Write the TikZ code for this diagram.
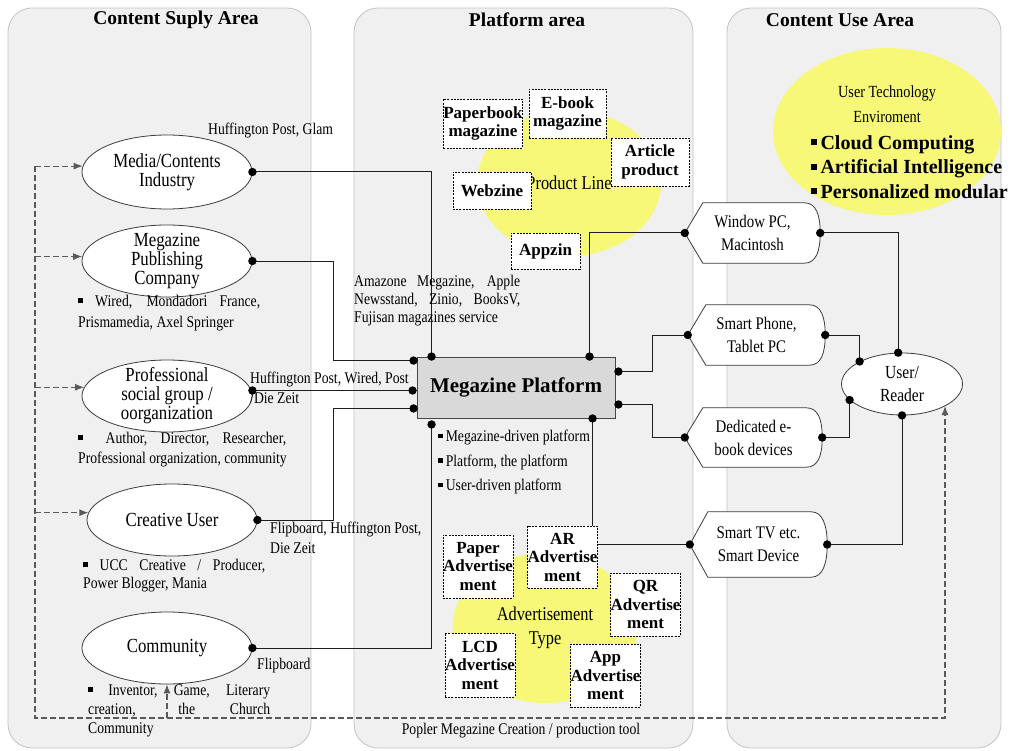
\documentclass[tikz,border=0pt]{standalone}
\usepackage{fontspec}
\setmainfont{Liberation Serif}
\newfontfamily\cnx{Liberation Serif}[FakeStretch=0.84]
\usetikzlibrary{shapes.geometric,arrows.meta,calc}
\definecolor{panelfill}{RGB}{240,240,240}
\definecolor{panelline}{RGB}{195,195,195}
\definecolor{yelc}{RGB}{247,247,120}
\definecolor{platc}{RGB}{217,217,217}
\definecolor{platline}{RGB}{70,70,70}
\definecolor{ellc}{RGB}{60,60,60}
\definecolor{linec}{RGB}{30,30,30}
\definecolor{dashc}{RGB}{90,90,90}
\newcommand\bsq{\rule[0.2em]{0.3em}{0.3em}}
\newcommand\dispshape[1]{%
  \draw[shp] (#1.west) -- ($(#1.north west)+(18,0)$) -- ($(#1.north east)+(-16,0)$)
   .. controls ($(#1.north east)+(-4,0)$) and ($(#1.east)+(0,-18)$) .. (#1.east)
   .. controls ($(#1.east)+(0,18)$) and ($(#1.south east)+(-4,0)$) .. ($(#1.south east)+(-16,0)$)
   -- ($(#1.south west)+(18,0)$) -- cycle;}
\begin{document}
\begin{tikzpicture}[x=1pt,y=-1pt,
  panel/.style={draw=panelline, fill=panelfill, rounded corners=24pt, line width=0.8pt},
  yel/.style={ellipse, fill=yelc, inner sep=0pt},
  ell/.style={ellipse, draw=ellc, fill=white, line width=0.8pt, inner sep=0pt, minimum width=170pt, minimum height=72pt},
  disp/.style={inner sep=0pt, minimum width=137pt, minimum height=60pt},
  shp/.style={draw=ellc, fill=white, line width=0.8pt},
  conn/.style={draw=linec, line width=1pt},
  dconn/.style={draw=dashc, line width=1.1pt, dash pattern=on 6pt off 3pt},
  dbox/.style={draw=black, fill=white, line width=0.7pt, dash pattern=on 2pt off 1.2pt, inner sep=0pt, align=center, font=\bfseries\fontsize{17}{18.5}\selectfont},
  lbl/.style={inner sep=0pt, align=left, font=\cnx\fontsize{16.3}{19}\selectfont},
  ctext/.style={inner sep=0pt, align=center, font=\cnx\fontsize{20}{19}\selectfont},
  dtext/.style={inner sep=0pt, align=center, font=\cnx\fontsize{17.7}{23}\selectfont},
  hdr/.style={inner sep=0pt, font=\bfseries\fontsize{19.5}{22}\selectfont},
  tip/.style={-{Latex[length=9pt,width=7pt]}}
]
\useasboundingbox (0,0) rectangle (1016,751);
% panels
\draw[panel] (8,8) rectangle (311,748);
\draw[panel] (354,8) rectangle (693,748);
\draw[panel] (727,8) rectangle (1001,748);
\node[hdr] (h1) at (176,20) {Content Suply Area};
\node[hdr] (h2) at (527,20) {Platform area};
\node[hdr] (h3) at (840,20) {Content Use Area};

% yellow ellipses
\node[yel, minimum width=184pt, minimum height=146pt, label={[lbl, font=\cnx\fontsize{19.5}{20}\selectfont]center:Product Line}] (ypl) at (569,183) {};
\node[yel, minimum width=185pt, minimum height=150pt, label={[lbl, align=center, font=\cnx\fontsize{19.5}{24}\selectfont]center:Advertisement\\Type}] (yad) at (545,628) {};
\node[yel, minimum width=228pt, minimum height=167pt] (yut) at (887,131.5) {};
\node[lbl, align=center, font=\cnx\fontsize{17}{25}\selectfont] (utt) at (887,104.5) {User Technology\\Enviroment};
\node[inner sep=0pt, anchor=north west, align=left, font=\bfseries\fontsize{20}{24.5}\selectfont] (utb) at (811,135) {\bsq\,Cloud Computing\\\bsq\,Artificial Intelligence\\\bsq\,Personalized modular};

% left ellipses
\node[ell, minimum height=74pt, label={[ctext]center:Media/Contents\\Industry}] (med) at (167,172) {};
\node[ell, label={[ctext]center:Megazine\\Publishing\\Company}] (pub) at (167,261) {};
\node[ell, label={[ctext]center:Professional\\social group /\\oorganization}] (prof) at (167,396) {};
\node[ell, label={[ctext]center:Creative User}] (cre) at (172,520) {};
\node[ell, label={[ctext]center:Community}] (com) at (167,648) {};

% platform
\node[draw=platline, fill=platc, line width=0.9pt, minimum width=198pt, minimum height=61pt, inner sep=0pt, font=\bfseries\fontsize{21}{24}\selectfont] (plat) at (516,387.5) {Megazine Platform};
\coordinate (pt1) at ($(plat.north west)+(15,0)$);
\coordinate (pt2) at ($(plat.north west)+(173,0)$);
\coordinate (pl1) at ($(plat.north west)+(-3,4)$);
\coordinate (pl2) at ($(plat.west)+(-4,3)$);
\coordinate (pl3) at ($(plat.south west)+(-3,-10)$);
\coordinate (pr1) at ($(plat.north east)+(3,15)$);
\coordinate (pr2) at ($(plat.south east)+(3,-14)$);
\coordinate (pb1) at ($(plat.south west)+(15,6)$);
\coordinate (pb2) at ($(plat.south west)+(176,0)$);
\coordinate (profd) at (prof.east |- pl2);

% display shapes (placeholders) and user
\node[disp, minimum width=135pt] (win) at (752.5,233) {};
\node[disp] (phone) at (756.5,335) {};
\node[disp, minimum height=59pt] (ded) at (753.5,437.5) {};
\node[disp, minimum height=65pt] (tv) at (758.5,544.5) {};
\node[ell, minimum width=121pt, minimum height=62pt, label={[ctext, font=\cnx\fontsize{18.5}{23}\selectfont]center:User/\\Reader}] (user) at (902,384) {};

% solid connectors
\draw[conn] (med.east) -| (pt1);
\draw[conn] (pub.east) -| ($(pl1)+(-80,0)$) -- (pl1);
\draw[conn] (profd) -- (pl2);
\draw[conn] (cre.east) -| ($(pl3)+(-80,0)$) -- (pl3);
\draw[conn] (com.east) -| (pb1);
\draw[conn] (pt2) |- (win.west);
\draw[conn] (pr1) -- ++(34,0) |- (phone.west);
\draw[conn] (pr2) -- ++(34,0) |- (ded.west);
\draw[conn] (pb2) |- (tv.west);
\draw[conn] (win.east) -| (user.97);
\draw[conn] (phone.east) -| (user.152);
\draw[conn] (ded.east) -| (user.197);
\draw[conn] (tv.east) -| (user.south);

% dashed feedback loop
\coordinate (dl) at (35,718);
\coordinate (dr) at (945,718);
\draw[dconn, tip] (dl |- med.176) -- (dl) -- (dr) -- (dr |- user.333);
\draw[dconn, tip] (dl |- med.176) -- (med.176);
\draw[dconn, tip] (dl |- pub.177) -- (pub.177);
\draw[dconn, tip] (dl |- prof.174) -- (prof.174);
\draw[dconn, tip] (dl |- cre.175) -- (cre.175);
\draw[dconn, tip] (dl -| com.south) -- (com.south);

% display shapes
\dispshape{win}
\dispshape{phone}
\dispshape{ded}
\dispshape{tv}
\node[dtext] (wint) at (win) {Window PC,\\Macintosh};
\node[dtext] (phonet) at (phone) {Smart Phone,\\Tablet PC};
\node[dtext] (dedt) at (ded) {Dedicated e-\\book devices};
\node[dtext] (tvt) at (tv) {Smart TV etc.\\Smart Device};

% dashed boxes
\node[dbox, minimum width=78pt, minimum height=49pt] (bpb) at (483,123.5) {Paperbook\\magazine};
\node[dbox, minimum width=77pt, minimum height=49pt] (beb) at (567.5,113.5) {E-book\\magazine};
\node[dbox, minimum width=78pt, minimum height=48pt] (bar) at (650,162) {Article\\product};
\node[dbox, minimum width=78pt, minimum height=37pt] (bwz) at (492,190.5) {Webzine};
\node[dbox, minimum width=69pt, minimum height=36pt] (bap) at (545.5,251) {Appzin};
\node[dbox, minimum width=68pt, minimum height=63pt] (apa) at (478,566.5) {Paper\\Advertise\\ment};
\node[dbox, minimum width=67pt, minimum height=62pt] (aar) at (562.5,557) {AR\\Advertise\\ment};
\node[dbox, minimum width=67pt, minimum height=63pt] (aqr) at (645.5,604.5) {QR\\Advertise\\ment};
\node[dbox, minimum width=68pt, minimum height=64pt] (alc) at (480,665) {LCD\\Advertise\\ment};
\node[dbox, minimum width=67pt, minimum height=63pt] (aap) at (605.5,675.5) {App\\Advertise\\ment};

% dots
\foreach \c in {med.east, pub.east, profd, cre.east, com.east, pt1, pt2, pl1, pl2, pl3, pr1, pr2, pb1, pb2, win.west, win.east, phone.west, phone.east, ded.west, ded.east, tv.west, tv.east, user.97, user.152, user.197, user.south}
  \fill[black] (\c) circle (4.2pt);

% labels
\node[lbl, anchor=north west] (lhg) at (208,123) {Huffington Post, Glam};
\node[lbl, anchor=north west, font=\cnx\fontsize{16.3}{21}\selectfont] (lpub) at (78,295) {\makebox[182pt][s]{\bsq\ Wired, Mondadori France,}\\Prismamedia, Axel Springer};
\node[lbl, anchor=north west, font=\cnx\fontsize{16.3}{20}\selectfont] (lprof) at (78,432) {\makebox[208pt][s]{\bsq\ \ Author, Director, Researcher,}\\Professional organization, community};
\node[lbl, anchor=north west, font=\cnx\fontsize{16.3}{18}\selectfont] (lcre) at (83,559) {\makebox[182pt][s]{\bsq\ UCC Creative / Producer,}\\Power Blogger, Mania};
\node[lbl, anchor=north west] (lcom) at (88,684) {\makebox[182pt][s]{\bsq\ \ Inventor, \ Game, \ Literary}\\\makebox[182pt][s]{creation, the Church}\\Community};
\node[lbl, anchor=north west, font=\cnx\fontsize{16.3}{20}\selectfont] (lhw) at (250,372) {Huffington Post, Wired, Post\\/Die Zeit};
\node[lbl, anchor=north west, font=\cnx\fontsize{16.3}{20}\selectfont] (lfh) at (270,522) {Flipboard, Huffington Post,\\Die Zeit};
\node[lbl, anchor=north west] (lfl) at (257,658) {Flipboard};
\node[lbl, anchor=north west, font=\cnx\fontsize{16.3}{18}\selectfont] (lam) at (354,275) {\makebox[166pt][s]{Amazone Megazine, Apple}\\\makebox[166pt][s]{Newsstand, Zinio, BooksV,}\\Fujisan magazines service};
\node[lbl, anchor=north west, font=\cnx\fontsize{16.3}{24.5}\selectfont] (lpf) at (438,430) {\bsq\,Megazine-driven platform\\\bsq\,Platform, the platform\\\bsq\,User-driven platform};
\node[lbl] (lpop) at (521,731) {Popler Megazine Creation / production tool};
\end{tikzpicture}
\end{document}
